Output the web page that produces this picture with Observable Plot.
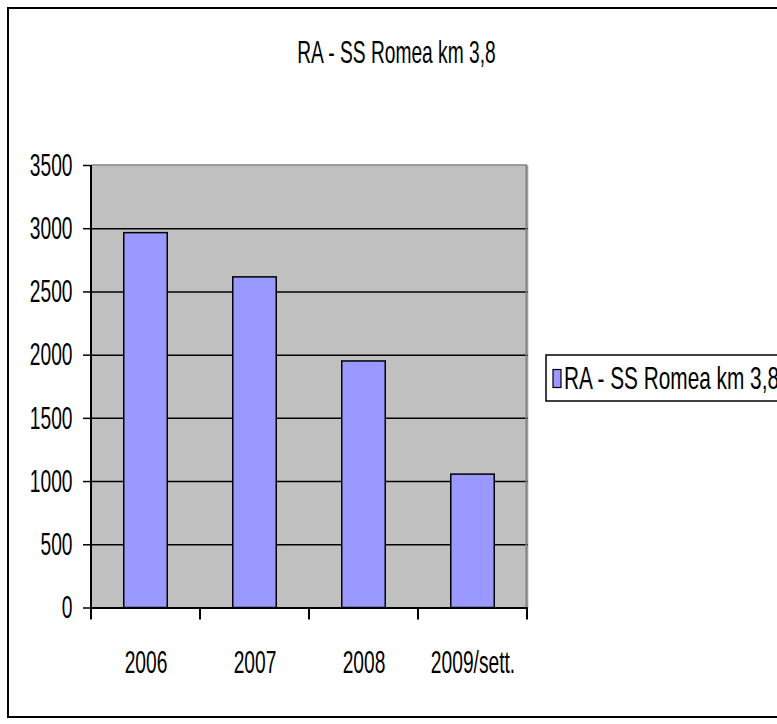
<!DOCTYPE html>
<html><head><meta charset="utf-8">
<script src="https://cdn.jsdelivr.net/npm/d3@7"></script>
<script src="https://cdn.jsdelivr.net/npm/@observablehq/plot@0.6"></script>
<style>
html,body{margin:0;padding:0;background:#fff;overflow:hidden;}
#chart svg{max-width:none;display:block;}
</style></head><body><div id="chart"></div>
<script>
const title = "RA - SS Romea km 3,8";
const seriesName = "RA - SS Romea km 3,8";
const categories = ["2006", "2007", "2008", "2009/sett."];
const values = [2965, 2615, 1950, 1055];
const yTicks = [0, 500, 1000, 1500, 2000, 2500, 3000, 3500];
const gridValues = [500, 1000, 1500, 2000, 2500, 3000];

const data = categories.map((c, i) => ({cat: c, value: values[i]}));
const W = 777, H = 724, plotLeft = 90, plotRight = 528, plotTop = 165, plotBottom = 607.5;
const FONT = "'Liberation Sans', Arial, sans-serif";
const FS = 32;
const SQUEEZE = 0.60;
const bandW = (plotRight - plotLeft) / categories.length;
const barW = 44;
const inset = (bandW - barW) / 2;

const plot = Plot.plot({
  width: W, height: H,
  marginLeft: plotLeft, marginRight: W - plotRight, marginTop: plotTop, marginBottom: H - plotBottom,
  style: {fontFamily: FONT, fontSize: FS + "px", background: "transparent", color: "#000", overflow: "hidden"},
  x: {domain: categories, padding: 0, label: null},
  y: {domain: [0, 3500], label: null},
  marks: [
    Plot.frame({fill: "#c0c0c0", stroke: null}),
    Plot.ruleY(gridValues, {stroke: "#000", strokeWidth: 1.5}),
    Plot.barY(data, {x: "cat", y: "value", fill: "#9999ff", stroke: "#000", strokeWidth: 1.5, insetLeft: inset, insetRight: inset}),
    Plot.ruleY([0], {stroke: "#000", strokeWidth: 2}),
    Plot.axisY({ticks: yTicks, tickSize: 7, tickPadding: 11, tickFormat: d => String(d), stroke: "#000", strokeWidth: 1.5, label: null, fill: "#000"}),
    Plot.axisX({tickSize: 0, tickPadding: 42, label: null, fill: "#000"})
  ]
});
document.getElementById("chart").appendChild(plot);

const svg = d3.select(plot);
const xs = plot.scale("x"), ys = plot.scale("y");
const y0 = ys.apply(0), yTop = ys.apply(3500);
const x0 = xs.apply(categories[0]);
const xEnd = xs.apply(categories[categories.length - 1]) + xs.bandwidth;

// top and right edges of plot area (grey)
svg.append("line").attr("x1", x0).attr("x2", xEnd).attr("y1", yTop).attr("y2", yTop)
  .attr("stroke", "#808080").attr("stroke-width", 1.5);
svg.append("line").attr("x1", xEnd - 0.5).attr("x2", xEnd - 0.5).attr("y1", yTop).attr("y2", y0)
  .attr("stroke", "#808080").attr("stroke-width", 2);
// left axis line
svg.append("line").attr("x1", x0).attr("x2", x0).attr("y1", yTop).attr("y2", y0)
  .attr("stroke", "#000").attr("stroke-width", 2);
// x boundary ticks
const bounds = categories.map(c => xs.apply(c)).concat([xEnd]);
svg.append("g").selectAll("line").data(bounds).join("line")
  .attr("x1", d => d).attr("x2", d => d).attr("y1", y0).attr("y2", y0 + 12)
  .attr("stroke", "#000").attr("stroke-width", 2);

// outer border
svg.append("rect").attr("x", 8).attr("y", 8).attr("width", 778).attr("height", 709)
  .attr("fill", "none").attr("stroke", "#000").attr("stroke-width", 2);

// title
svg.append("text").attr("x", 396.5).attr("y", 63).attr("text-anchor", "middle")
  .attr("font-family", FONT).attr("font-size", FS).attr("fill", "#000").text(title);

// condense all text horizontally to match the narrow lettering
svg.selectAll("text").each(function() {
  const L = this.getComputedTextLength();
  if (L > 0) {
    this.setAttribute("textLength", (L * SQUEEZE).toFixed(2));
    this.setAttribute("lengthAdjust", "spacingAndGlyphs");
  }
});

// legend
const lg = svg.append("g");
lg.append("rect").attr("x", 546).attr("y", 355).attr("width", 260).attr("height", 46)
  .attr("fill", "#fff").attr("stroke", "#000").attr("stroke-width", 1.5);
lg.append("rect").attr("x", 553).attr("y", 369.5).attr("width", 8).attr("height", 18)
  .attr("fill", "#9999ff").attr("stroke", "#000").attr("stroke-width", 1.2);
lg.append("text").attr("x", 564).attr("y", 389).attr("text-anchor", "start")
  .attr("font-family", FONT).attr("font-size", FS).attr("fill", "#000")
  .attr("textLength", 215).attr("lengthAdjust", "spacingAndGlyphs").text(seriesName);
</script></body></html>
